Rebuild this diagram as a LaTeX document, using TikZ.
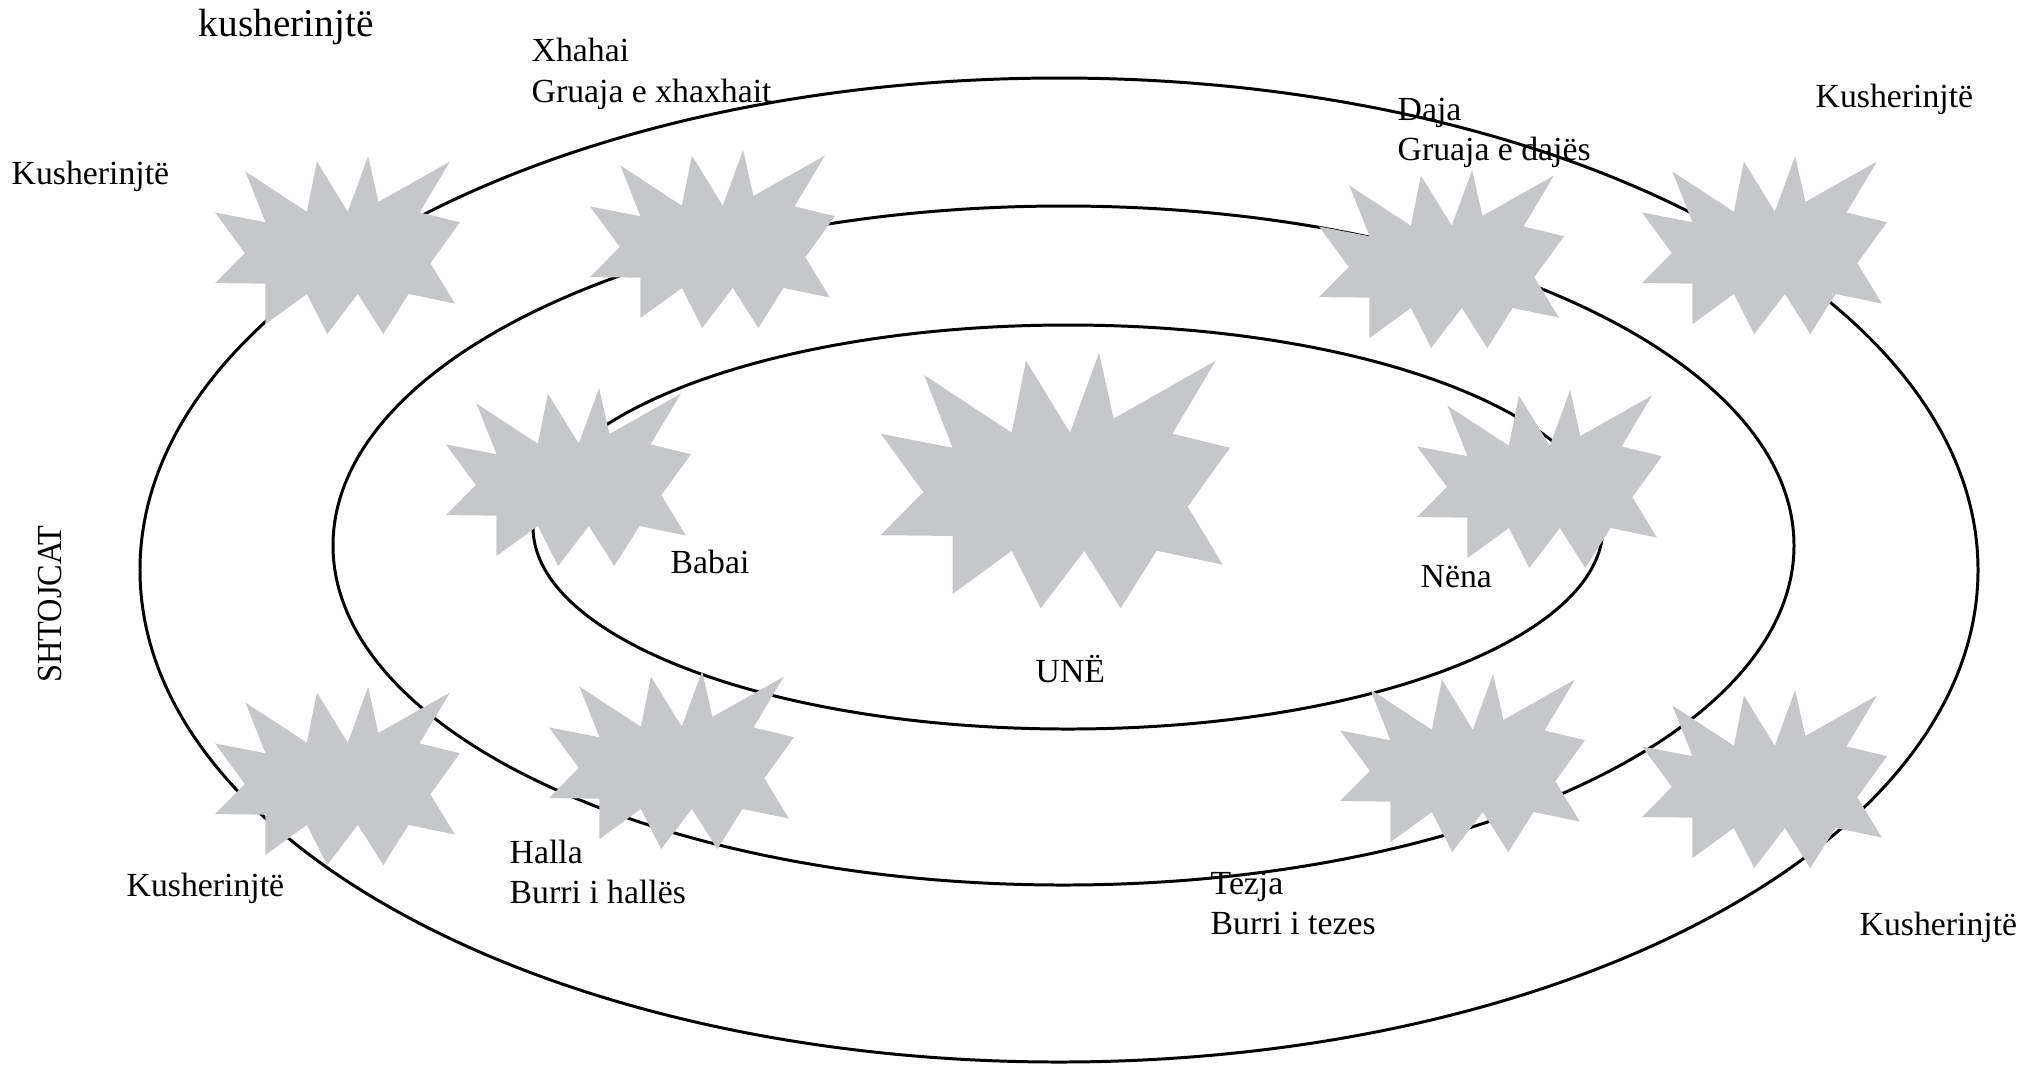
\documentclass[tikz,border=0pt]{standalone}
\usepackage{fontspec}
\setmainfont{Liberation Serif}
\usepackage{tikz}

\definecolor{burstgray}{RGB}{198,199,201}
\tikzset{
  ring/.style={line width=0.85pt},
  burst/.style={fill=burstgray},
  lbl/.style={font=\fontsize{9.6}{11.5}\selectfont, inner sep=0pt, anchor=base west},
}
% one starburst, given by its top left corner, width and height
\newcommand{\starburst}[4]{%
  \fill[burst, shift={(#1,#2)}, xscale=#3, yscale=#4]
    (0.124,0.087) -- (0.206,0.372) -- (0,0.317) -- (0.122,0.545) -- (0,0.714)
    -- (0.206,0.717) -- (0.206,0.944) -- (0.375,0.775) -- (0.458,1) -- (0.583,0.775)
    -- (0.687,1) -- (0.790,0.775) -- (0.979,0.829) -- (0.879,0.602) -- (1,0.372)
    -- (0.835,0.317) -- (0.959,0.031) -- (0.667,0.258) -- (0.625,0) -- (0.542,0.313)
    -- (0.416,0.031) -- (0.375,0.313) -- cycle;}

\begin{document}
\begin{tikzpicture}[x=0.1mm,y=-0.1mm]
\useasboundingbox (0,0) rectangle (2027,1066);
%
\draw[ring] (1059,570) ellipse [x radius=919, y radius=492];
\draw[ring] (1063.5,545.5) ellipse [x radius=730.5, y radius=339.5];
\draw[ring] (1068,527) ellipse [x radius=535, y radius=202];
%
\starburst{215}{156}{245}{178}
\starburst{590}{150}{245}{178}
\starburst{1319}{170}{245}{178}
\starburst{1642}{156}{245}{178}
\starburst{446}{388}{245}{178}
\starburst{880.7}{352.7}{349.3}{255.6}
\starburst{1417}{390}{245}{178}
\starburst{215}{687}{245}{178}
\starburst{549}{671}{245}{178}
\starburst{1340}{674}{245}{178}
\starburst{1642}{690}{245}{178}
%
\node[lbl, font=\fontsize{11.2}{13}\selectfont] (cousinsTop) at (198,36) {kusherinjtë};
\node[lbl] (cousinsNW) at (11,184) {Kusherinjtë};
\node[lbl] (xhahai) at (531,61) {Xhahai};
\node[lbl] (xhahaiWife) at (531,102) {Gruaja e xhaxhait};
\node[lbl] (daja) at (1397,120) {Daja};
\node[lbl] (dajaWife) at (1397,160) {Gruaja e dajës};
\node[lbl] (cousinsNE) at (1815,107) {Kusherinjtë};
\node[lbl] (babai) at (670,573) {Babai};
\node[lbl] (une) at (1035,682) {UNË};
\node[lbl] (nena) at (1420,587) {Nëna};
\node[lbl] (cousinsSW) at (126,896) {Kusherinjtë};
\node[lbl] (halla) at (509,863) {Halla};
\node[lbl] (hallaHusband) at (509,903) {Burri i hallës};
\node[lbl] (tezja) at (1210,894) {Tezja};
\node[lbl] (tezjaHusband) at (1210,934) {Burri i tezes};
\node[lbl] (cousinsSE) at (1859,935) {Kusherinjtë};
%
\node[font=\fontsize{10}{12}\selectfont, inner sep=0pt, rotate=90, xscale=0.92] (shtojcat) at (50,604) {SHTOJCAT};
\end{tikzpicture}
\end{document}
